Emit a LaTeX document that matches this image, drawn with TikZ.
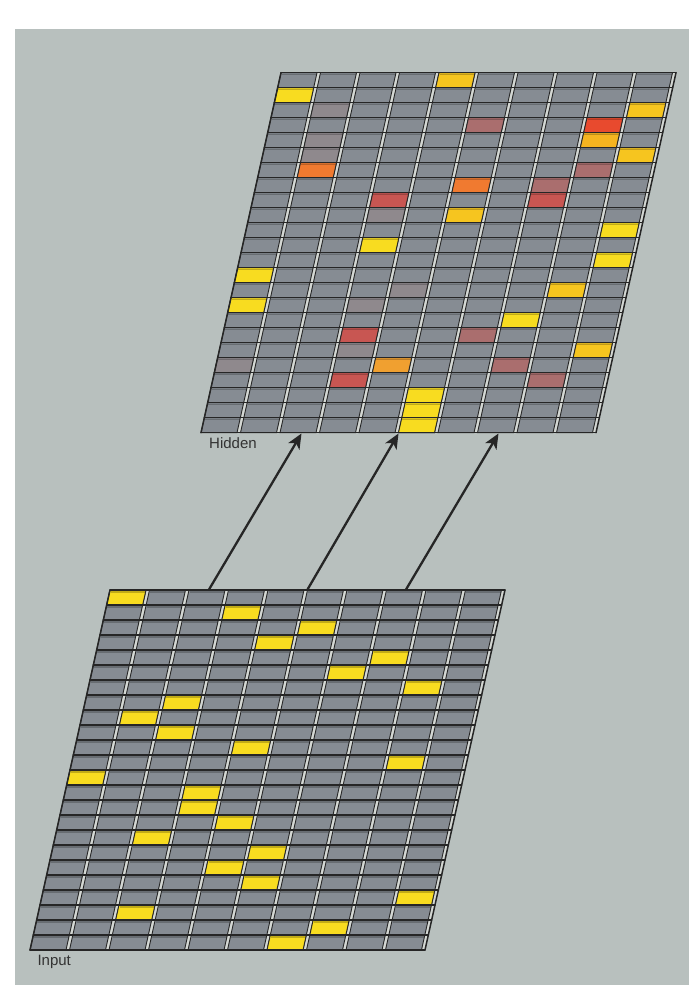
\documentclass[tikz,border=0pt]{standalone}
\usepackage{fontspec}
\setmainfont{Liberation Sans}
\usetikzlibrary{arrows.meta}
\definecolor{bgc}{HTML}{B8C0BE}
\definecolor{cellc}{HTML}{868C93}
\definecolor{gapc}{HTML}{D4D8D4}
\definecolor{linec}{HTML}{262626}
\definecolor{labelc}{HTML}{333333}
\definecolor{hy}{HTML}{F8DC20}
\definecolor{hyo}{HTML}{F6C51F}
\definecolor{hoy}{HTML}{F5B420}
\definecolor{hro}{HTML}{E84A2E}
\definecolor{ho}{HTML}{F07A30}
\definecolor{hoa}{HTML}{F0A030}
\definecolor{hr}{HTML}{C85652}
\definecolor{hm}{HTML}{AA6E6E}
\definecolor{hgm}{HTML}{8F898D}
\tikzset{
  cellbox/.style={draw=linec, line width=0.9pt},
  topshade/.style={draw=black, opacity=0.22, line width=1.6pt},
  framel/.style={draw=linec, line width=1.5pt, line cap=round},
  conn/.style={draw=linec, line width=2.3pt, -{Stealth[length=15pt,width=13pt,inset=4pt]}},
  lbl/.style={anchor=base west, inner sep=0pt, text=labelc, font=\fontsize{15}{18}\selectfont}
}
\newcommand\mycell[4]{% x-left-top, y-top, col, colour
  \pgfmathsetmacro\cxa{#1+39.5*#3}%
  \pgfmathsetmacro\cxb{\cxa-3.33333}%
  \path[cellbox, fill=#4] (\cxa,#2) -- (\cxa+36,#2) -- (\cxb+36,#2+15) -- (\cxb,#2+15) -- cycle;
  \path[topshade] (\cxa+0.6,#2+1.7) -- (\cxa+35.4,#2+1.7);
}
\newcommand\mygrid[3]{%
  \foreach \r in {0,...,23}{%
    \pgfmathsetmacro\gya{#2+15*\r}%
    \pgfmathsetmacro\gxa{#1-3.33333*\r}%
    \pgfmathsetmacro\gxb{\gxa-3.33333}%
    \fill[gapc] (\gxa,\gya) -- (\gxa+395,\gya) -- (\gxb+395,\gya+15) -- (\gxb,\gya+15) -- cycle;
    \foreach \c in {0,...,9}{\mycell{\gxa}{\gya}{\c}{cellc}}%
  }%
  \foreach \r/\c/\k in {#3}{%
    \pgfmathsetmacro\gya{#2+15*\r}%
    \pgfmathsetmacro\gxa{#1-3.33333*\r}%
    \mycell{\gxa}{\gya}{\c}{\k}%
  }%
  \foreach \r in {0,...,24}{%
    \pgfmathsetmacro\gya{#2+15*\r}%
    \pgfmathsetmacro\gxa{#1-3.33333*\r}%
    \path[framel] (\gxa,\gya) -- (\gxa+395,\gya);
  }%
  \path[framel] (#1,#2) -- (#1-80,#2+360);
  \path[framel] (#1+395,#2) -- (#1+315,#2+360);
}
\begin{document}
\begin{tikzpicture}[x=1pt,y=-1pt]
\useasboundingbox (0,0) rectangle (689,985);
\fill[bgc] (15,29) rectangle (689,985);
% Hidden layer
\mygrid{281}{72.7}{0/4/hyo,1/0/hy,2/1/hgm,2/9/hyo,3/5/hm,3/8/hro,4/1/hgm,4/8/hoy,5/1/hgm,5/9/hyo,
 6/1/ho,6/8/hm,7/5/ho,7/7/hm,8/3/hr,8/7/hr,9/3/hgm,9/5/hyo,10/9/hy,11/3/hy,12/9/hy,13/0/hy,
 14/4/hgm,14/8/hyo,15/0/hy,15/3/hgm,16/7/hy,17/3/hr,17/6/hm,18/3/hgm,18/9/hyo,19/0/hgm,19/4/hoa,
 19/7/hm,20/3/hr,20/8/hm,21/5/hy,22/5/hy,23/5/hy}
% Input layer
\mygrid{110}{590}{0/0/hy,1/3/hy,2/5/hy,3/4/hy,4/7/hy,5/6/hy,6/8/hy,7/2/hy,8/1/hy,9/2/hy,
 10/4/hy,11/8/hy,12/0/hy,13/3/hy,14/3/hy,15/4/hy,16/2/hy,17/5/hy,18/4/hy,19/5/hy,20/9/hy,
 21/2/hy,22/7/hy,23/6/hy}
\coordinate (i1) at (209,589.5);
\coordinate (i2) at (307.5,589.5);
\coordinate (i3) at (406,589.5);
\coordinate (h1) at (301.5,433.5);
\coordinate (h2) at (398.5,433.5);
\coordinate (h3) at (498.5,433.5);
\path[conn] (i1) -- (h1);
\path[conn] (i2) -- (h2);
\path[conn] (i3) -- (h3);
\node[lbl] (hidden) at (209,448.3) {Hidden};
\node[lbl] (input) at (37.3,965.7) {Input};
\end{tikzpicture}
\end{document}
